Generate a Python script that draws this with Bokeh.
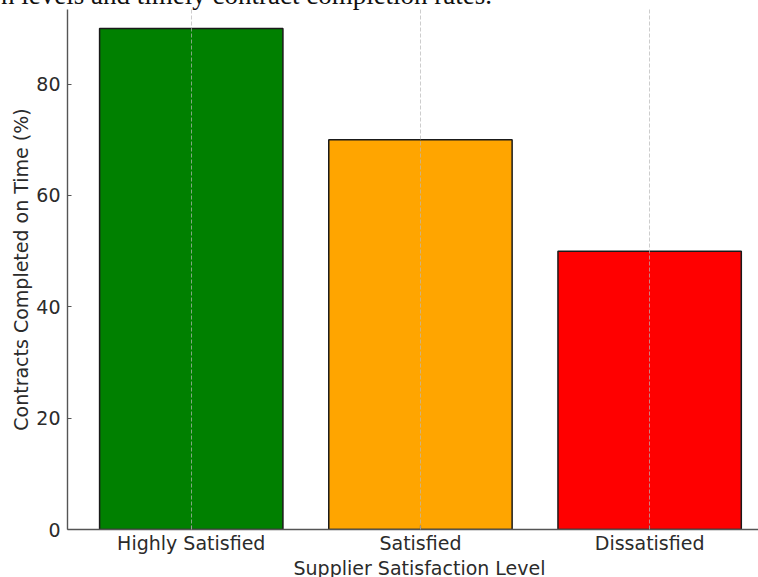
from bokeh.plotting import figure
from bokeh.models import FixedTicker, Range1d, ColumnDataSource, Title
from bokeh.embed import file_html
from bokeh.resources import INLINE

categories = ["Highly Satisfied", "Satisfied", "Dissatisfied"]
values = [90, 70, 50]
colors = ["#008000", "#FFA500", "#FF0000"]
y_ticks = [0, 20, 40, 60, 80]
title_text = "n levels and timely contract completion rates."
x_title = "Supplier Satisfaction Level"
y_title = "Contracts Completed on Time (%)"

xs = list(range(len(categories)))
source = ColumnDataSource(dict(x=xs, top=values, color=colors))

TOP = 40      # border above the frame (title lives there)
SHIFT = TOP - 9
BOTTOM = 51
p = figure(width=758, height=529 + BOTTOM + SHIFT, output_backend="svg",
           toolbar_location=None,
           x_range=Range1d(-0.54, 2.475), y_range=Range1d(0, 93.4),
           min_border_left=67, min_border_right=0, min_border_top=TOP,
           min_border_bottom=BOTTOM)
p.styles = {"margin-top": "-%dpx" % SHIFT}
p.outline_line_color = None
p.background_fill_color = "white"
p.border_fill_color = "white"

p.title.text = title_text
p.title.align = "left"
p.title.offset = -66.5
p.title.standoff = 0
p.title.text_font = "Liberation Serif"
p.title.text_font_size = "27px"
p.title.text_font_style = "normal"
p.title.text_color = "#111111"

p.vbar(x="x", top="top", bottom=0, width=0.8, source=source,
       fill_color="color", line_color="#1a1a1a", line_width=1.5)

font = "DejaVu Sans"
text_col = "#2b2b2b"
for ax in (p.xaxis[0], p.yaxis[0]):
    ax.axis_line_color = "#555555"
    ax.axis_line_width = 1.4
    ax.major_tick_line_color = "#555555"
    ax.major_tick_line_width = 1.2
    ax.major_tick_in = 4
    ax.major_tick_out = 0
    ax.minor_tick_line_color = None
    ax.major_label_text_font = font
    ax.major_label_text_font_size = "19px"
    ax.major_label_text_color = text_col

p.xaxis.ticker = FixedTicker(ticks=xs)
p.xaxis.major_label_overrides = {i: c for i, c in enumerate(categories)}
p.xaxis.major_label_standoff = 2
p.yaxis.ticker = FixedTicker(ticks=y_ticks)
p.yaxis.major_label_standoff = 7
p.yaxis.axis_label = y_title
p.yaxis.axis_label_text_font = font
p.yaxis.axis_label_text_font_size = "19px"
p.yaxis.axis_label_text_font_style = "normal"
p.yaxis.axis_label_text_color = text_col
p.yaxis.axis_label_standoff = 1

p.ygrid.visible = False
p.xgrid.grid_line_color = "#b8b8b8"
p.xgrid.grid_line_alpha = 0.7
p.xgrid.grid_line_dash = "4 2"
p.xgrid.grid_line_width = 1
p.xgrid.level = "overlay"

p.add_layout(Title(text=x_title, align="left", offset=226, standoff=0,
                   vertical_align="top", text_font=font, text_font_size="19px",
                   text_font_style="normal", text_color=text_col), "below")

open("out.html", "w").write(file_html(p, INLINE))
